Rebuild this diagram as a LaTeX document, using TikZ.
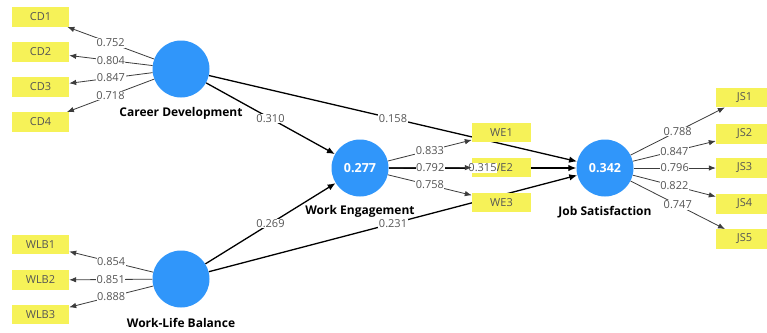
\documentclass[tikz,border=0pt]{standalone}
\usepackage{fontspec}
\setmainfont{Open Sans}
\usetikzlibrary{arrows.meta}
\definecolor{lvblue}{RGB}{48,150,250}
\definecolor{indyellow}{RGB}{246,242,88}
\definecolor{txtgray}{RGB}{85,85,85}
\definecolor{loadgray}{RGB}{60,60,60}
\pgfdeclarelayer{bg}
\pgfsetlayers{bg,main}
\begin{document}
\begin{tikzpicture}[x=1pt,y=-1pt,
  lv/.style={circle,fill=lvblue,minimum size=57pt,inner sep=0pt,text=white,font=\fontsize{12.5}{14}\selectfont\bfseries},
  ind/.style={rectangle,fill=indyellow,minimum width=57pt,minimum height=19.5pt,inner sep=0pt,text=txtgray,font=\fontsize{11}{12}\selectfont},
  lvname/.style={font=\fontsize{12}{14}\selectfont\bfseries,text=black,inner sep=0pt},
  lbl/.style={fill=white,inner sep=0.6pt,text=txtgray,font=\fontsize{11}{12}\selectfont},
  loadarr/.style={draw=loadgray,line width=0.8pt,-{Latex[length=7pt,width=5.5pt]}},
  patharr/.style={draw=black,line width=1.3pt,-{Latex[length=8pt,width=6.5pt]}}
]
\useasboundingbox (0,0) rectangle (767,332);
% latent variables
\node[lv] (cd) at (181,69) {};
\node[lv] (wlb) at (181,279) {};
\node[lv] (we) at (360,168) {0.277};
\node[lv] (js) at (605,168) {0.342};
\node[lvname] (cdn) at (181,113) {Career Development};
\node[lvname] (wlbn) at (181,323) {Work-Life Balance};
\node[lvname] (wen) at (360,211) {Work Engagement};
\node[lvname] (jsn) at (605,212) {Job Satisfaction};
% indicators
\node[ind] (cd1) at (40.5,17) {CD1};
\node[ind] (cd2) at (40.5,52) {CD2};
\node[ind] (cd3) at (40.5,87) {CD3};
\node[ind] (cd4) at (40.5,122) {CD4};
\node[ind] (wlb1) at (40.5,244.5) {WLB1};
\node[ind] (wlb2) at (40.5,280) {WLB2};
\node[ind] (wlb3) at (40.5,314.5) {WLB3};
\node[ind,minimum width=59pt] (we1) at (501.5,132.5) {WE1};
\node[ind,minimum width=59pt] (we2) at (501.5,167.5) {WE2};
\node[ind,minimum width=59pt] (we3) at (501.5,202.5) {WE3};
\node[ind] (js1) at (744.5,97.5) {JS1};
\node[ind] (js2) at (744.5,134) {JS2};
\node[ind] (js3) at (744.5,168) {JS3};
\node[ind] (js4) at (744.5,204) {JS4};
\node[ind] (js5) at (744.5,239) {JS5};
% structural paths (behind boxes)
\begin{pgfonlayer}{bg}
\fill[white] (0,0) rectangle (767,332);
\draw[patharr] (cd) -- (we);
\draw[patharr] (cd) -- (js);
\draw[patharr] (wlb) -- (we);
\draw[patharr] (wlb) -- (js);
\draw[patharr] (we) -- (js);
\end{pgfonlayer}
\path (cd) -- node[lbl]{0.310} (we);
\path (cd) -- node[lbl]{0.158} (js);
\path (wlb) -- node[lbl]{0.269} (we);
\path (wlb) -- node[lbl]{0.231} (js);
\path (we) -- node[lbl]{0.315} (js);
% loadings
\draw[loadarr] (cd) -- node[lbl]{0.752} (cd1);
\draw[loadarr] (cd) -- node[lbl]{0.804} (cd2);
\draw[loadarr] (cd) -- node[lbl]{0.847} (cd3);
\draw[loadarr] (cd) -- node[lbl]{0.718} (cd4);
\draw[loadarr] (wlb) -- node[lbl]{0.854} (wlb1);
\draw[loadarr] (wlb) -- node[lbl]{0.851} (wlb2);
\draw[loadarr] (wlb) -- node[lbl]{0.888} (wlb3);
\draw[loadarr] (we) -- node[lbl]{0.833} (we1);
\draw[loadarr] (we) -- node[lbl]{0.792} (we2);
\draw[loadarr] (we) -- node[lbl]{0.758} (we3);
\draw[loadarr] (js) -- node[lbl]{0.788} (js1);
\draw[loadarr] (js) -- node[lbl]{0.847} (js2);
\draw[loadarr] (js) -- node[lbl]{0.796} (js3);
\draw[loadarr] (js) -- node[lbl]{0.822} (js4);
\draw[loadarr] (js) -- node[lbl]{0.747} (js5);
\end{tikzpicture}
\end{document}
